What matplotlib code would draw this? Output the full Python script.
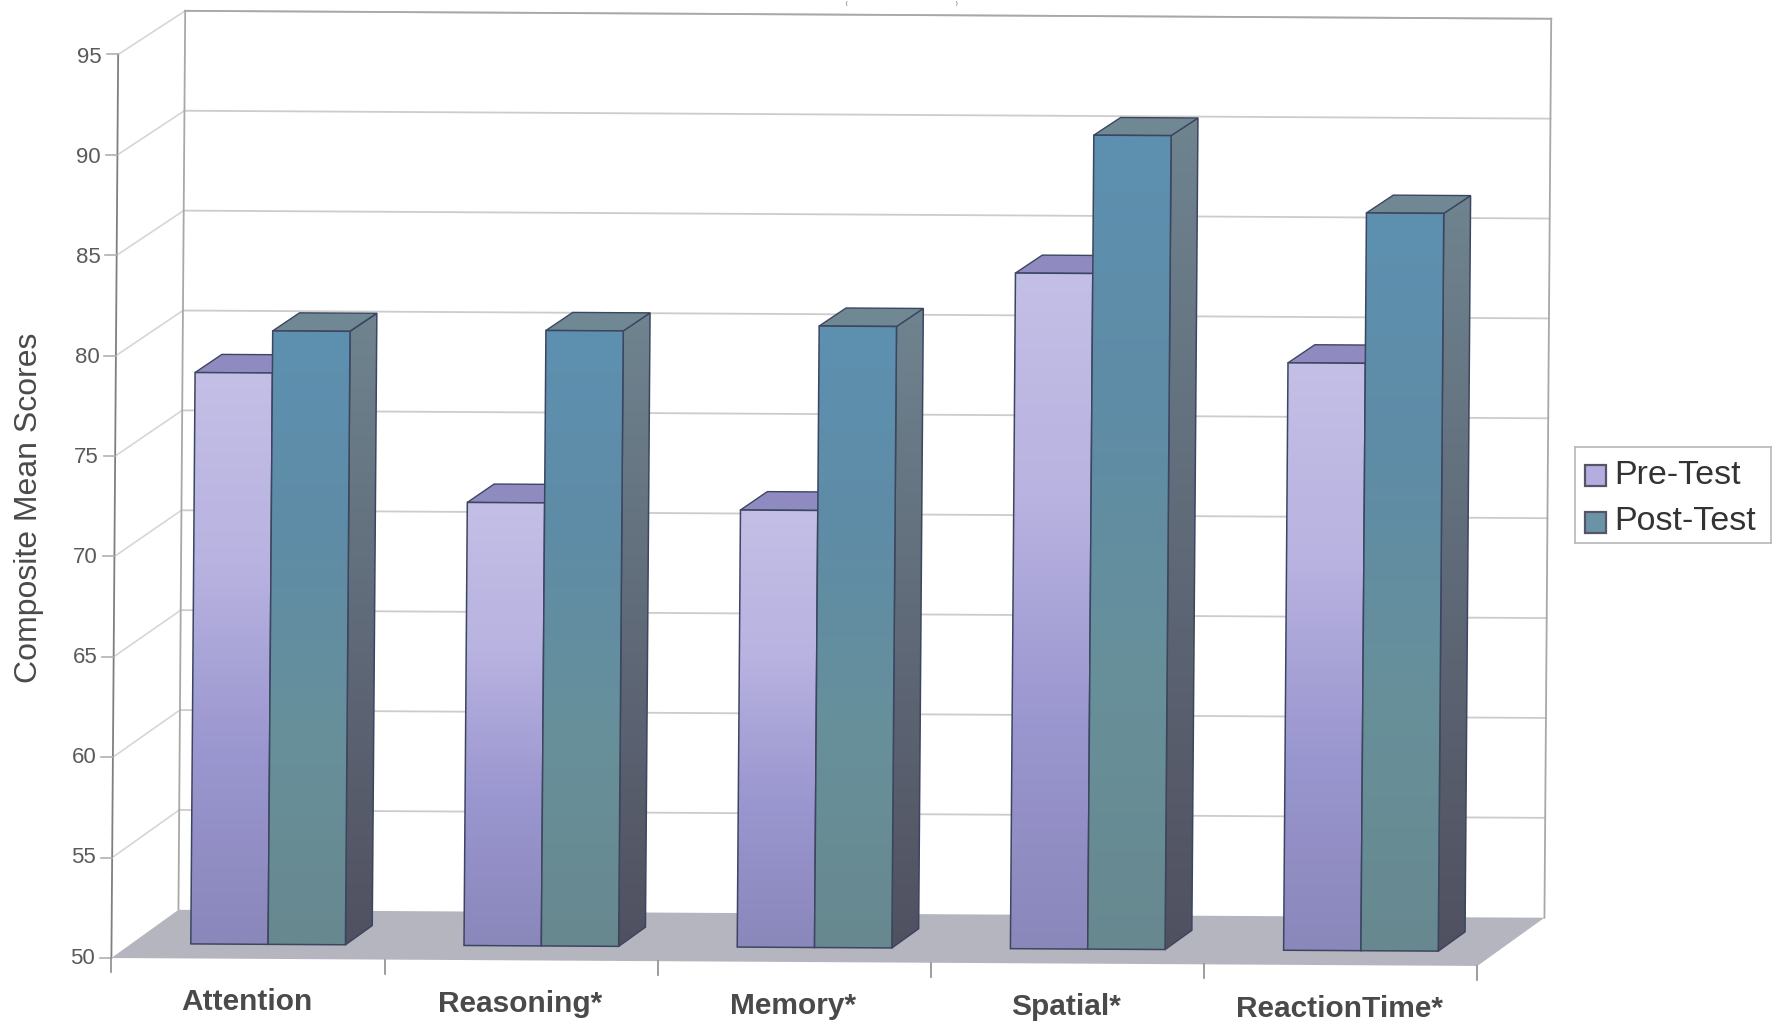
import matplotlib
matplotlib.use("Agg")
import matplotlib.pyplot as plt
import numpy as np
from matplotlib.colors import LinearSegmentedColormap
from matplotlib.patches import Polygon, Rectangle

plt.rcParams['font.family'] = ['Liberation Sans', 'DejaVu Sans']

categories = ["Attention", "Reasoning*", "Memory*", "Spatial*", "ReactionTime*"]
pre_test = [78.5, 72.1, 71.8, 83.7, 79.3]
post_test = [80.6, 80.7, 81.0, 90.6, 86.8]
y_ticks = [50, 55, 60, 65, 70, 75, 80, 85, 90, 95]

# shear of the scanned page plus the depth offset of the 3D box
U_PER_V = 0.00055
V_PER_U = -0.079
DEPTH_U = 0.2454
DEPTH_V = 2.4
DEPTH_SHRINK = 0.005
BAR_W = 0.283
D_FRONT, D_BACK = 0.3, 0.7

GRID = "#cccccc"
AXIS = "#7f7f7f"
TEXT = "#4a4a4a"

PRE_FACE = ["#c4bfe6", "#b8b3e0", "#9a96cf", "#8a87bb"]
POST_FACE = ["#5d90b0", "#5f8ca6", "#67909a", "#68888f"]
PRE_SIDE = ["#7f7ca6", "#5a5878"]
POST_SIDE = ["#6f8490", "#505060"]
PRE_TOP = "#8f8bc0"
POST_TOP = "#6f8894"


def proj(u, v, d=0.0):
    return (u + (v - 50) * U_PER_V + d * DEPTH_U,
            v - (v - 50) * DEPTH_SHRINK * d + u * V_PER_U + d * DEPTH_V)


def quad(ax, pts, z, **kw):
    p = Polygon([proj(*q) for q in pts], closed=True, zorder=z, clip_on=False, **kw)
    ax.add_patch(p)
    return p


def gradient_quad(ax, pts, colors, z):
    # vertical gradient clipped to the face, runs top of the bar -> floor
    outline = quad(ax, pts, z + 0.1, facecolor="none", edgecolor="#3c4660", linewidth=1.1)
    cmap = LinearSegmentedColormap.from_list("face", colors)
    xy = outline.get_xy()
    im = ax.imshow(np.linspace(0, 1, 256).reshape(-1, 1), cmap=cmap, aspect="auto",
                   extent=[xy[:, 0].min(), xy[:, 0].max(), xy[:, 1].min(), xy[:, 1].max()],
                   origin="upper", zorder=z)
    clip = Polygon(xy, closed=True, transform=ax.transData)
    im.set_clip_path(clip)


def draw_bar(ax, u, value, face, side, top, z):
    u2 = u + BAR_W
    gradient_quad(ax, [(u, 50, D_FRONT), (u2, 50, D_FRONT), (u2, value, D_FRONT), (u, value, D_FRONT)],
                  face, z + 0.4)
    gradient_quad(ax, [(u2, 50, D_FRONT), (u2, 50, D_BACK), (u2, value, D_BACK), (u2, value, D_FRONT)],
                  side, z + 0.2)
    quad(ax, [(u, value, D_FRONT), (u2, value, D_FRONT), (u2, value, D_BACK), (u, value, D_BACK)],
         z + 0.3, facecolor=top, edgecolor="#3c4660", linewidth=1.0)


fig = plt.figure(figsize=(17.82, 10.24), dpi=100)
# front plane of the box: category 0..5 on x, score 50..95 on y
ax = fig.add_axes([111.4 / 1782, 1 - 958.0 / 1024, 1366.0 / 1782, 903.5 / 1024])
ax.set_xlim(0, 5)
ax.set_ylim(50, 95)
ax.axis("off")

# floor
quad(ax, [(0, 50, 0), (5, 50, 0), (5, 50, 1), (0, 50, 1)], 1,
     facecolor="#b5b5bf", edgecolor="none")

# back wall and side wall gridlines
for v in y_ticks:
    if v == 50:
        continue
    xs, ys = zip(proj(0, v, 1), proj(5, v, 1))
    ax.plot(xs, ys, color=GRID, lw=1.3, zorder=0.5, clip_on=False)
    xs, ys = zip(proj(0, v, 0), proj(0, v, 1))
    ax.plot(xs, ys, color="#d6d6d6", lw=1.2, zorder=0.5, clip_on=False)

# box edges
for a, b, c in [((0, 50, 1), (0, 95, 1), "#a8a8a8"),
                ((5, 50, 1), (5, 95, 1), "#a8a8a8"),
                ((0, 95, 1), (5, 95, 1), "#a8a8a8"),
                ((0, 50, 0), (0, 95, 0), AXIS)]:
    xs, ys = zip(proj(*a), proj(*b))
    ax.plot(xs, ys, color=c, lw=1.3, zorder=0.8, clip_on=False)

# y ticks and labels on the front edge
for v in y_ticks:
    x0, y0 = proj(0, v)
    ax.plot([x0 - 0.042, x0], [y0, y0], color="#b0b0b0", lw=1.2, clip_on=False)
    ax.text(x0 - 0.06, y0 - (v - 50) * 0.003, str(v), ha="right", va="center",
            fontsize=16, color="#5a5a5a")

# category ticks and labels
for i in range(len(categories) + 1):
    x0, y0 = proj(i, 50)
    ax.plot([x0, x0], [y0, y0 - 0.7], color="#8c8c8c", lw=1.2, clip_on=False)
for i, name in enumerate(categories):
    x0, y0 = proj(i + 0.495, 50)
    ax.text(x0, y0 - 2.17, name, ha="center", va="center", fontsize=21.5,
            fontweight="bold", color=TEXT, clip_on=False)

# bars, left to right
for i in range(len(categories)):
    base = i + (1 - 2 * BAR_W) / 2
    draw_bar(ax, base, pre_test[i], PRE_FACE, PRE_SIDE, PRE_TOP, 2 + 2 * i)
    draw_bar(ax, base + BAR_W, post_test[i], POST_FACE, POST_SIDE, POST_TOP, 3 + 2 * i)

ax.set_xlim(0, 5)
ax.set_ylim(50, 95)

fig.text(29 / 1782, 1 - 508 / 1024, "Composite Mean Scores", rotation=90,
         ha="center", va="center", fontsize=23, color=TEXT)

# small parentheses at the very top of the page
fig.text(847 / 1782, 1 - 1 / 1024, "(", ha="center", va="top", fontsize=3.5, color="#333333")
fig.text(957 / 1782, 1 - 1 / 1024, ")", ha="center", va="top", fontsize=3.5, color="#333333")

# legend box, drawn by hand so swatches keep the bar shading
leg = fig.add_axes([1575 / 1782, 1 - 543 / 1024, 196 / 1782, 96 / 1024])
leg.set_xlim(0, 196)
leg.set_ylim(96, 0)
leg.set_xticks([])
leg.set_yticks([])
for s in leg.spines.values():
    s.set_color("#b8b8b8")
    s.set_linewidth(1.2)
for y, label, color in [(28, "Pre-Test", "#b4aee0"), (75, "Post-Test", "#6a93a8")]:
    leg.add_patch(Rectangle((10, y - 10), 21, 21, facecolor=color, edgecolor="#555566", linewidth=1.6))
    leg.text(39, y, label, va="center", ha="left", fontsize=24.5, color="#333333")

fig.savefig("out.png", dpi=100)
